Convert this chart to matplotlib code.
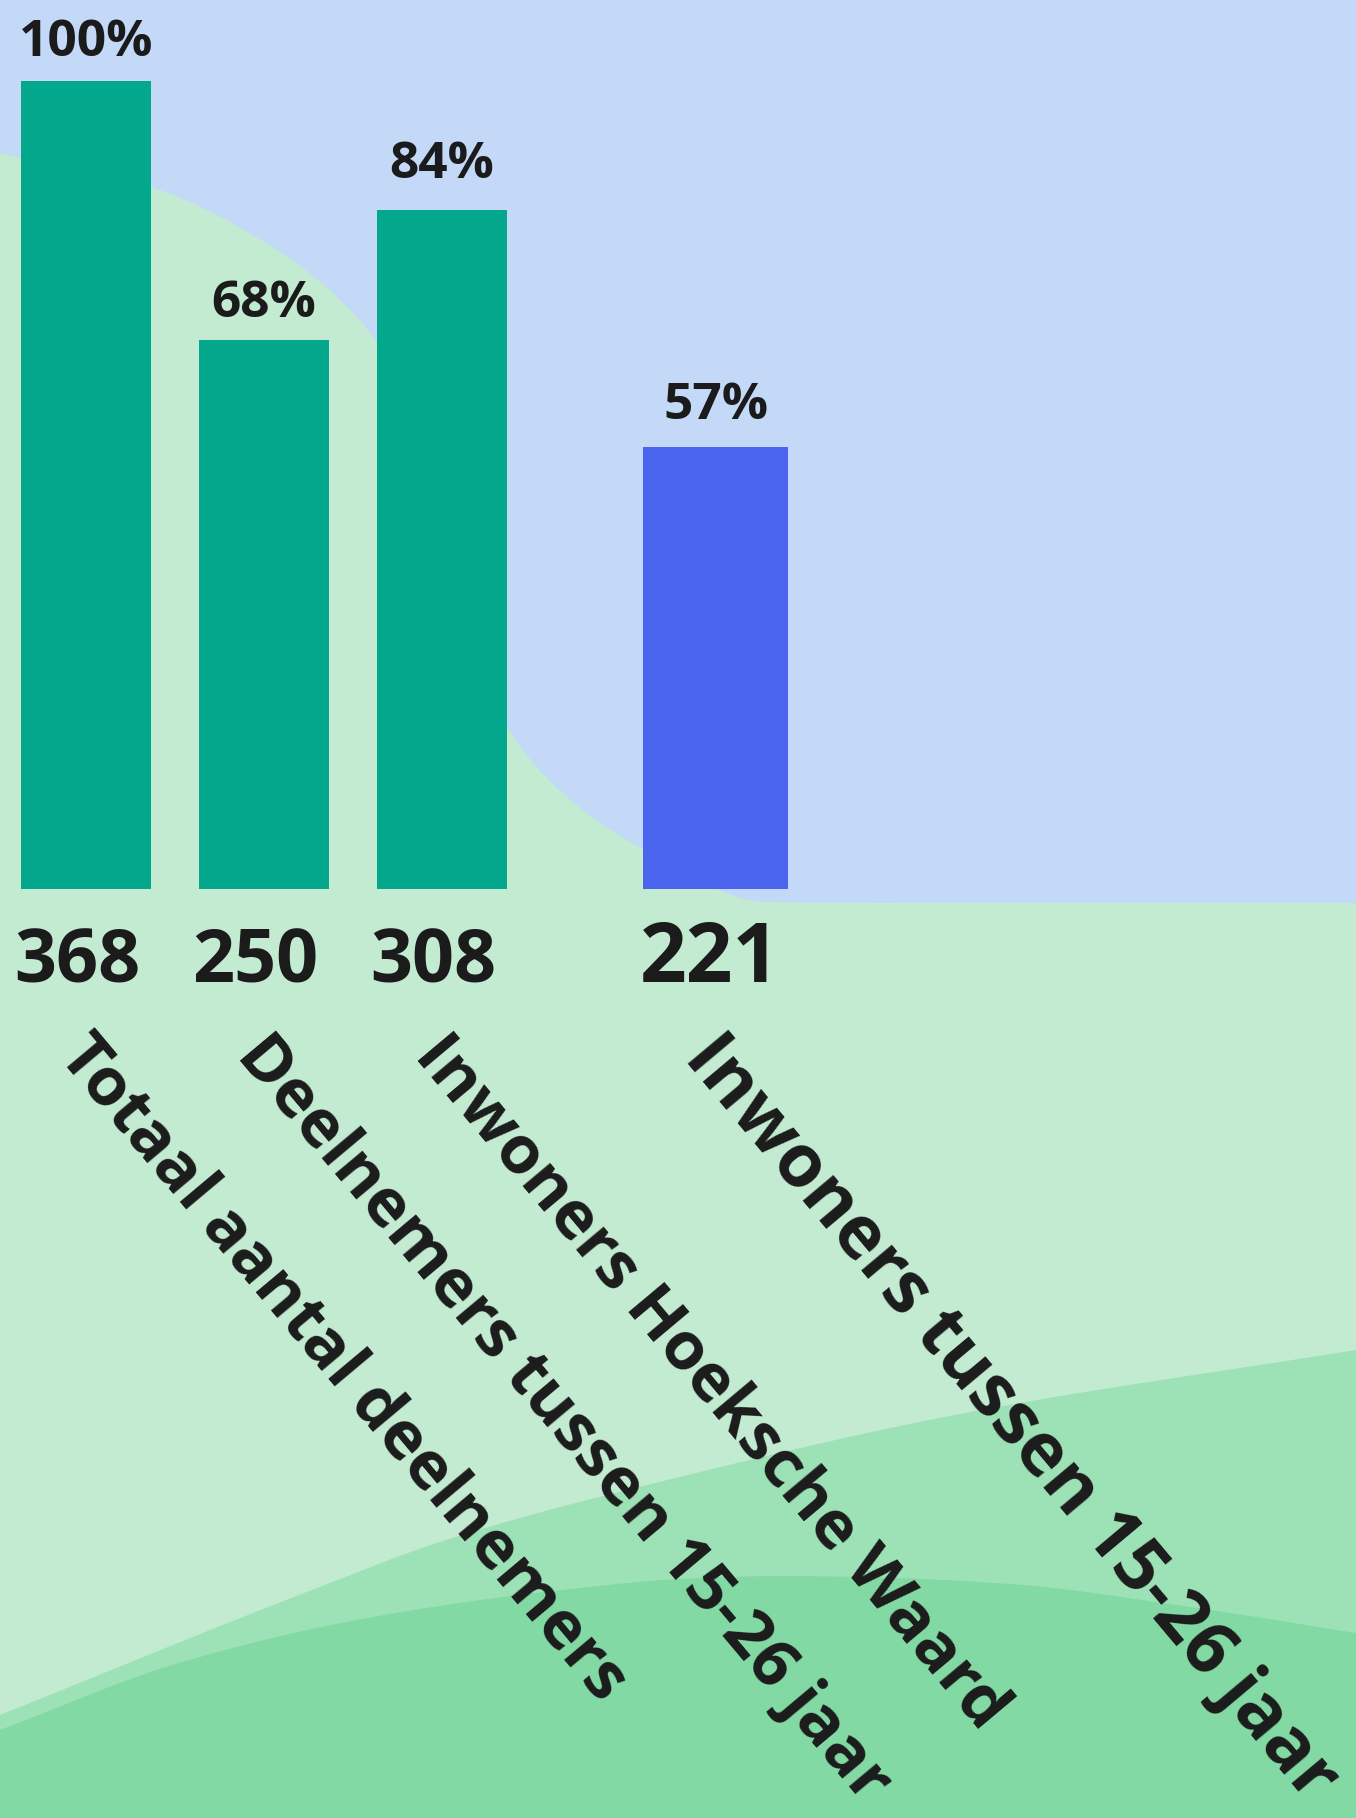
import numpy as np
import matplotlib
matplotlib.use("Agg")
import matplotlib.pyplot as plt

plt.rcParams['font.family'] = ['Open Sans', 'DejaVu Sans']

# data
categories = ["Totaal aantal deelnemers", "Deelnemers tussen 15-26 jaar",
              "Inwoners Hoeksche Waard", "Inwoners tussen 15-26 jaar"]
counts = [368, 250, 308, 221]
pct_labels = ["100%", "68%", "84%", "57%"]
bar_heights = [100, 68, 84, 54.7]   # as drawn in the picture

# layout
xpos = [0, 1, 2, 3.54]
widths = [0.73, 0.73, 0.73, 0.815]
bar_colors = ["#03a78c", "#03a78c", "#03a78c", "#4a64ee"]
pct_offsets = [18, 16.5, 23.5, 20]
text_col = "#1b1b1b"

W, H = 1356, 1818


def pchip(pts, n=600):
    # monotone cubic y(x) through the outline points
    p = np.array(pts, dtype=float)
    x, y = p[:, 0], p[:, 1]
    h = np.diff(x)
    s = np.diff(y) / h
    d = np.zeros_like(y)
    for k in range(1, len(x) - 1):
        if s[k - 1] * s[k] > 0:
            w1 = 2 * h[k] + h[k - 1]
            w2 = h[k] + 2 * h[k - 1]
            d[k] = (w1 + w2) / (w1 / s[k - 1] + w2 / s[k])
    d[0], d[-1] = s[0], s[-1]
    xs = np.linspace(x[0], x[-1], n)
    k = np.clip(np.searchsorted(x, xs) - 1, 0, len(x) - 2)
    t = (xs - x[k]) / h[k]
    h00 = 2 * t ** 3 - 3 * t ** 2 + 1
    h10 = t ** 3 - 2 * t ** 2 + t
    h01 = -2 * t ** 3 + 3 * t ** 2
    h11 = t ** 3 - t ** 2
    ys = h00 * y[k] + h10 * h[k] * d[k] + h01 * y[k + 1] + h11 * h[k] * d[k + 1]
    return np.column_stack([xs, ys])


fig = plt.figure(figsize=(W / 100, H / 100), dpi=100)

# background decoration in pixel coords
bg = fig.add_axes([0, 0, 1, 1])
bg.set_xlim(0, W)
bg.set_ylim(H, 0)
bg.axis('off')
bg.add_patch(plt.Rectangle((0, 0), W, H, color="#c4d8f8", zorder=0))

blob = pchip([(0, 153), (151, 187), (277, 250), (340, 300), (377, 343), (440, 540), (506, 725),
              (573, 802), (643, 849), (767, 902), (900, 903), (W, 903)])
blob = np.vstack([blob, [(W, H), (0, H)]])
bg.fill(blob[:, 0], blob[:, 1], color="#c2ebd1", lw=0, zorder=1)

wave1 = pchip([(0, 1715), (312, 1590), (446, 1540), (700, 1472), (965, 1413), (W, 1350)])
wave1 = np.vstack([wave1, [(W, H), (0, H)]])
bg.fill(wave1[:, 0], wave1[:, 1], color="#9de2b6", lw=0, zorder=2)

wave2 = pchip([(0, 1730), (179, 1663), (357, 1620), (536, 1593), (700, 1578), (780, 1576),
               (860, 1577), (1010, 1584), (1190, 1607), (W, 1633)])
wave2 = np.vstack([wave2, [(W, H), (0, H)]])
bg.fill(wave2[:, 0], wave2[:, 1], color="#83d9a3", lw=0, zorder=3)

# chart
ax = fig.add_axes([0, 0, 1, 1])
ax.patch.set_alpha(0)
ax.set_xlim(-85.8 / 178, (W - 85.8) / 178)
ax.set_ylim(-(H - 889) / 8.08, 100 + 81 / 8.08)
ax.axis('off')

ax.bar(xpos, bar_heights, width=widths, color=bar_colors, zorder=3)

for i in range(len(categories)):
    big = i == 3
    ax.annotate(pct_labels[i], xy=(xpos[i], bar_heights[i]), xytext=(0, pct_offsets[i]),
                textcoords='offset points', ha='center', va='baseline',
                fontsize=37, fontweight='bold', color=text_col, annotation_clip=False)
    ax.annotate(str(counts[i]), xy=(xpos[i], 0), xytext=(-4 if big else -6, -67),
                textcoords='offset points', ha='center', va='baseline',
                fontsize=59 if big else 53, fontweight='bold', color=text_col,
                annotation_clip=False)
    ax.annotate(categories[i], xy=(xpos[i], 0),
                xytext=(-23.5 if big else -20.5, -122 if big else -120),
                textcoords='offset points', ha='left', va='baseline',
                rotation=-50, rotation_mode='anchor',
                fontsize=52.5 if big else 48, fontweight='bold', color=text_col,
                annotation_clip=False)

fig.savefig("out.png", dpi=100)
